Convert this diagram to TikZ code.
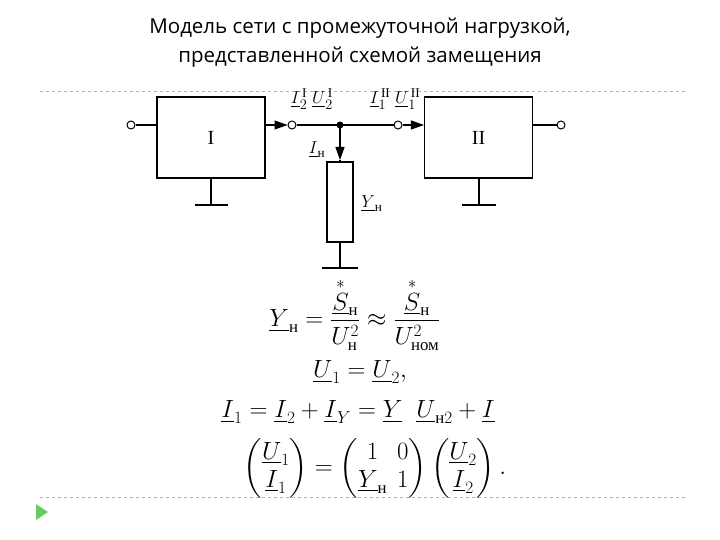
\documentclass[tikz,border=0pt]{standalone}
\usepackage{amsmath}
\usepackage{fontspec}
\setmainfont{Liberation Serif}
\newfontfamily\titlefont{Open Sans}
\usetikzlibrary{arrows.meta}
\newcommand{\ul}[1]{\underline{#1}}
\newcommand{\cyr}[1]{\text{\upshape #1}}
\tikzset{
  wire/.style={line width=1.1pt},
  term/.style={circle,draw,line width=1pt,fill=white,inner sep=0pt,minimum size=8pt},
  blk/.style={draw,line width=1.1pt,minimum width=108pt,minimum height=81pt,font=\fontsize{20}{20}\selectfont},
  lbl/.style={font=\fontsize{19}{19}\selectfont,inner sep=1pt},
  eq/.style={font=\fontsize{24}{26}\selectfont},
  sep/.style={draw=gray!60,dashed,line width=0.6pt},
  tip/.style={-{Triangle[length=13pt,width=9pt]}}
}
\begin{document}
\begin{tikzpicture}[x=1pt,y=-1pt]
\useasboundingbox (0,0) rectangle (720,540);
\node[font=\titlefont\fontsize{20.5}{20}\selectfont] (t1) at (360,28) {Модель сети с промежуточной нагрузкой,};
\node[font=\titlefont\fontsize{20.5}{20}\selectfont] (t2) at (360,57) {представленной схемой замещения};
\draw[sep] (40,91) -- (685,91);
\draw[sep] (40,497) -- (685,497);
\fill[green!50!gray!80] (36,504) -- (48,512) -- (36,520) -- cycle;
% blocks
\node[blk] (b1) at (211,137.5) {I};
\node[blk] (b2) at (478.5,137.5) {II};
\node[term] (tl) at (131,125) {};
\node[term] (t2a) at (292,125) {};
\node[term] (t3) at (398,125) {};
\node[term] (tr) at (561,125) {};
\coordinate (j) at (340,125);
\fill (j) circle (3.5pt);
\draw[wire] (tl) -- (b1.west |- tl);
\draw[wire,tip] (b1.east |- t2a) -- (t2a);
\draw[wire] (t2a) -- (t3);
\draw[wire,tip] (t3) -- (b2.west |- t3);
\draw[wire] (b2.east |- tr) -- (tr);
% load
\node[draw,line width=1.1pt,minimum width=26pt,minimum height=80pt,inner sep=0pt] (r) at (340,202) {};
\coordinate (m) at (340,160);
\draw[wire,tip] (j) -- (m);
\draw[wire] (m) -- (r.north);
% grounds
\coordinate (g1) at (211,205);
\coordinate (g2) at (479,205);
\coordinate (g3) at (340,268);
\draw[wire] (b1.south) -- (g1); \draw[wire] (195,205) -- (228,205);
\draw[wire] (479,178) -- (g2); \draw[wire] (462,205) -- (496,205);
\draw[wire] (r.south) -- (g3); \draw[wire] (322,268) -- (358,268);
% labels
\node[lbl] (la) at (312,99) {$\ul{I}_2^{\,\mathrm{I}}\;\ul{U}_2^{\,\mathrm{I}}$};
\node[lbl] (lb) at (395,99) {$\ul{I}_1^{\,\mathrm{II}}\;\ul{U}_1^{\,\mathrm{II}}$};
\node[lbl] (lc) at (317,150) {$\ul{I}_{\cyr{н}}$};
\node[lbl] (ld) at (372,204) {$\ul{Y}_{\cyr{н}}$};
% equations
\node[eq] (e1) at (355,314) {$\ul{Y}_{\cyr{н}}=\dfrac{\overset{*}{\ul{S}}_{\cyr{н}}}{U_{\cyr{н}}^2}\approx\dfrac{\overset{*}{\ul{S}}_{\cyr{н}}}{U_{\cyr{ном}}^2}$};
\node[eq] (e2) at (360,372) {$\ul{U}_1=\ul{U}_2,$};
\node[eq] (e3) at (358,412) {$\ul{I}_1=\ul{I}_2+\ul{I}_Y=\ul{Y}\;\;\ul{U}_{\cyr{н}2}+\ul{I}$};
\node[eq] (e4) at (375,468) {$\begin{pmatrix}\ul{U}_1\\[2pt] \ul{I}_1\end{pmatrix}=\begin{pmatrix}1 & 0\\[2pt] \ul{Y}_{\cyr{н}} & 1\end{pmatrix}\begin{pmatrix}\ul{U}_2\\[2pt] \ul{I}_2\end{pmatrix}.$};
\end{tikzpicture}
\end{document}
